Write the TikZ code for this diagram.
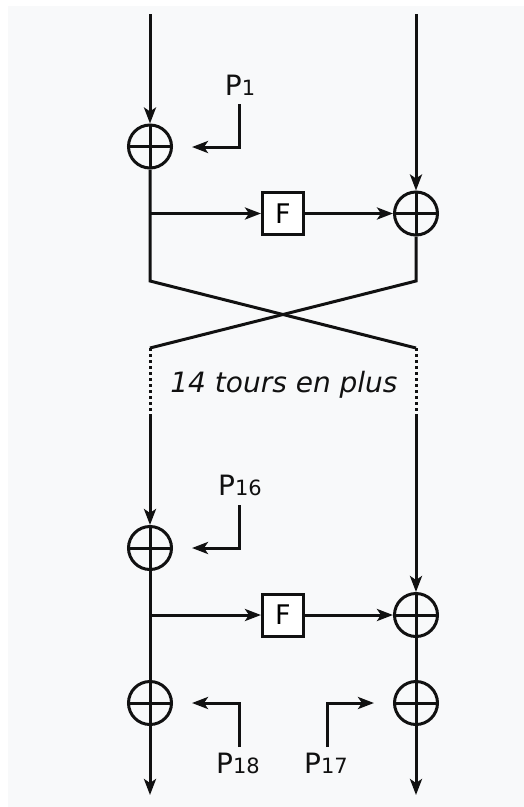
\documentclass[tikz,border=0pt]{standalone}
\usepackage{fontspec}
\setmainfont{DejaVu Sans}
\usetikzlibrary{arrows.meta}
\definecolor{bggray}{HTML}{F8F9FA}
\definecolor{ink}{HTML}{111111}
\tikzset{
  lw/.style={line width=3pt, draw=ink},
  arr/.style={lw, -{Stealth[length=16pt, width=12pt, inset=4pt]}},
  plain/.style={lw},
  dotline/.style={line width=3pt, draw=ink, dash pattern=on 2.5pt off 3.5pt},
  xor/.style={circle, draw=ink, line width=3pt, inner sep=0pt, minimum size=43pt,
    path picture={\draw[line width=3pt, draw=ink] (path picture bounding box.west) -- (path picture bounding box.east)
      (path picture bounding box.north) -- (path picture bounding box.south);}},
  fbox/.style={rectangle, draw=ink, fill=white, line width=3pt, inner sep=0pt, minimum width=41pt, minimum height=42pt, font=\fontsize{27}{27}\selectfont},
  plab/.style={anchor=base, inner sep=0pt, text=ink},
  tour/.style={anchor=base, inner sep=0pt, text=ink, font=\fontsize{28}{28}\selectfont\itshape}
}
\newcommand{\plabel}[1]{{\fontsize{28}{28}\selectfont P\fontsize{21}{21}\selectfont #1}}
\begin{document}
\begin{tikzpicture}[x=1pt, y=-1pt]
\fill[white] (0,0) rectangle (524,807);
\fill[bggray] (8,6) rectangle (524,807);
\useasboundingbox (0,0) rectangle (524,807);

% nodes
\node[xor] (x1) at (150,146.5) {};
\node[xor] (x2) at (416,213.5) {};
\node[fbox] (F1) at (283,213.5) {F};
\node[xor] (x3) at (150,548) {};
\node[xor] (x4) at (416,615) {};
\node[fbox] (F2) at (283,615) {F};
\node[xor] (x5) at (150,703) {};
\node[xor] (x6) at (416,703) {};

\node[plab] (l1) at (240,95) {\plabel{1}};
\node[plab] (l16) at (240,495) {\plabel{16}};
\node[plab] (l18) at (238,773) {\plabel{18}};
\node[plab] (l17) at (326,773) {\plabel{17}};
\node[tour] (tours) at (284,392) {14 tours en plus};

% coordinates
\coordinate (tl) at (150,14);
\coordinate (tr) at (416,14);
\coordinate (br1) at (150,213.5);
\coordinate (b1) at (150,281);
\coordinate (b2) at (416,281);
\coordinate (c1) at (150,348);
\coordinate (c2) at (416,348);
\coordinate (d1) at (150,412);
\coordinate (d2) at (416,412);
\coordinate (s1) at (150,414);
\coordinate (s2) at (416,414);
\coordinate (br2) at (150,615);
\coordinate (e1) at (150,795);
\coordinate (e2) at (416,795);
\coordinate (p1s) at (239,104);
\coordinate (p1e) at (192,147);
\coordinate (p16s) at (239,505);
\coordinate (p16e) at (192,548);
\coordinate (p18s) at (239,747);
\coordinate (p18e) at (192,703);
\coordinate (p17s) at (327,747);
\coordinate (p17e) at (374,703);

% first round
\draw[arr] (tl) -- (x1);
\draw[arr] (tr) -- (x2);
\draw[plain] (x1) -- (b1) -- (c2);
\draw[plain] (x2) -- (b2) -- (c1);
\draw[arr] (br1) -- (F1);
\draw[arr] (F1) -- (x2);
\draw[arr] (p1s) |- (p1e);

% dotted
\draw[dotline] (c1) -- (d1);
\draw[dotline] (c2) -- (d2);

% last round
\draw[arr] (s1) -- (x3);
\draw[arr] (s2) -- (x4);
\draw[plain] (x3) -- (x5);
\draw[plain] (x4) -- (x6);
\draw[arr] (br2) -- (F2);
\draw[arr] (F2) -- (x4);
\draw[arr] (p16s) |- (p16e);
\draw[arr] (p18s) |- (p18e);
\draw[arr] (p17s) |- (p17e);
\draw[arr] (x5) -- (e1);
\draw[arr] (x6) -- (e2);
\end{tikzpicture}
\end{document}
